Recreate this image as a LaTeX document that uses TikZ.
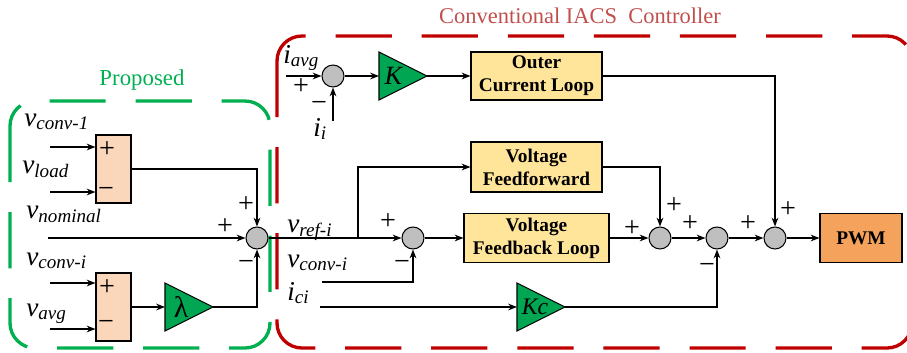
\documentclass[tikz,border=0pt]{standalone}
\usepackage{fontspec}
\setmainfont{Liberation Serif}
\usepackage{tikz}
\usetikzlibrary{arrows.meta,calc}
\definecolor{boxyellow}{RGB}{255,229,153}
\definecolor{peach}{RGB}{250,214,186}
\definecolor{gaingreen}{RGB}{0,166,81}
\definecolor{pwmorange}{RGB}{244,162,92}
\definecolor{sumgray}{RGB}{191,191,191}
\definecolor{dashred}{RGB}{192,0,0}
\definecolor{titlered}{RGB}{192,80,77}
\definecolor{dashgreen}{RGB}{0,176,80}
\newcommand{\sigl}[2]{\textit{#1}\textsubscript{\textit{#2}}}

\begin{document}
\begin{tikzpicture}[x=0.02cm, y=-0.02cm, >={Stealth[length=5pt,width=3.8pt]},
    sig/.style={line width=1.3pt},
    sumnode/.style={circle, draw, line width=0.6pt, fill=sumgray, minimum size=0.44cm, inner sep=0pt},
    loopbox/.style={draw, line width=0.6pt, fill=boxyellow, font=\fontsize{11}{13}\selectfont\bfseries, align=center, inner sep=0pt},
    subbox/.style={draw, line width=0.6pt, fill=peach, minimum width=0.7cm, minimum height=1.36cm, inner sep=0pt},
    gainshape/.style={draw, line width=0.6pt, fill=gaingreen},
    lbl/.style={anchor=base west, inner sep=0pt, font=\fontsize{15.5}{18}\selectfont},
    sgn/.style={inner sep=0pt, font=\fontsize{16}{18}\selectfont},
    groupbox/.style={line width=1.9pt, dash pattern=on 32pt off 17pt, rounded corners=0.5cm}]
    \useasboundingbox (0,0) rectangle (907,352);

    % Dashed groups
    \draw[groupbox, dashgreen] (10,101) rectangle (270,348);
    \draw[groupbox, dashred] (277,36) rectangle (912,348);
    \node[anchor=base, text=dashgreen, font=\fontsize{13}{15}\selectfont] (prop) at (142,85) {Proposed};
    \node[anchor=base, text=titlered, font=\fontsize{12.8}{15}\selectfont] (title) at (580,23) {Conventional IACS\ \ Controller};

    % Summing junctions
    \node[sumnode] (S0) at (257,238) {};
    \node[sumnode] (S1) at (333,76) {};
    \node[sumnode] (S2) at (413,238) {};
    \node[sumnode] (S3) at (660,238) {};
    \node[sumnode] (S4) at (717,238) {};
    \node[sumnode] (S5) at (775,238) {};

    % Blocks
    \node[subbox] (sub1) at (113.5,169) {};
    \node[subbox] (sub2) at (113.5,307) {};
    \node[loopbox, minimum width=2.62cm, minimum height=0.96cm] (OCL) at (536.5,76) {Outer\\Current Loop};
    \node[loopbox, minimum width=2.62cm, minimum height=1cm] (VFF) at (536.5,167) {Voltage\\Feedforward};
    \node[loopbox, minimum width=2.9cm, minimum height=0.98cm] (VFB) at (536.5,238) {Voltage\\Feedback Loop};
    \node[loopbox, fill=pwmorange, minimum width=1.64cm, minimum height=0.98cm] (PWM) at (861,238) {PWM};

    % Gains
    \draw[gainshape] (379,52) -- (427,76) -- (379,100) -- cycle;
    \draw[gainshape] (165,283) -- (213,307) -- (165,331) -- cycle;
    \draw[gainshape] (517,283) -- (565,307) -- (517,331) -- cycle;
    \node[font=\fontsize{15}{17}\selectfont] (K) at (394,76) {\textit{K}};
    \node[font=\fontsize{17}{19}\selectfont] (lam) at (181,307) {λ};
    \node[font=\fontsize{13.5}{15}\selectfont] (Kc) at (535,307) {\textit{Kc}};
    \coordinate (Kin) at (379,76);
    \coordinate (Kout) at (427,76);
    \coordinate (Lin) at (165,307);
    \coordinate (Lout) at (213,307);
    \coordinate (Kcin) at (517,307);
    \coordinate (Kcout) at (565,307);

    % Inputs
    \coordinate (vc1) at (50,147);
    \coordinate (vld) at (50,192);
    \coordinate (vnom) at (48,238);
    \coordinate (vci) at (50,283);
    \coordinate (vavg) at (50,329);
    \coordinate (iavg) at (286,76);
    \coordinate (ii) at (333,121);
    \coordinate (vconv) at (322,282);
    \coordinate (ici) at (320,307);
    \coordinate (br) at (358,238);

    % Proposed part
    \draw[sig,->] (vc1) -- (vc1 -| sub1.west);
    \draw[sig,->] (vld) -- (vld -| sub1.west);
    \draw[sig,->] (vci) -- (vci -| sub2.west);
    \draw[sig,->] (vavg) -- (vavg -| sub2.west);
    \draw[sig,->] (sub1.east) -| (S0.north);
    \draw[sig,->] (vnom) -- (S0.west);
    \draw[sig,->] (sub2.east) -- (Lin);
    \draw[sig,->] (Lout) -| (S0.south);

    % Conventional part
    \draw[sig,->] (iavg) -- (S1.west);
    \draw[sig,->] (ii) -- (S1.south);
    \draw[sig,->] (S1.east) -- (Kin);
    \draw[sig,->] (Kout) -- (OCL.west);
    \draw[sig,->] (S0.east) -- (S2.west);
    \draw[sig,->] (br) |- (VFF.west);
    \draw[sig,->] (vconv) -| (S2.south);
    \draw[sig,->] (S2.east) -- (VFB.west);
    \draw[sig,->] (VFB.east) -- (S3.west);
    \draw[sig,->] (VFF.east) -| (S3.north);
    \draw[sig,->] (S3.east) -- (S4.west);
    \draw[sig,->] (S4.east) -- (S5.west);
    \draw[sig,->] (S5.east) -- (PWM.west);
    \draw[sig,->] (OCL.east) -| (S5.north);
    \draw[sig,->] (ici) -- (Kcin);
    \draw[sig,->] (Kcout) -| (S4.south);

    % Signal names
    \node[lbl] (Lvc1) at (24,126) {\sigl{v}{conv-1}};
    \node[lbl] (Lvld) at (22,173) {\sigl{v}{load}};
    \node[lbl] (Lvnom) at (26,218) {\sigl{v}{nominal}};
    \node[lbl] (Lvci) at (26,265) {\sigl{v}{conv-i}};
    \node[lbl] (Lvavg) at (26,316) {\sigl{v}{avg}};
    \node[lbl] (Liavg) at (283,63) {\sigl{i}{avg}};
    \node[lbl] (Lii) at (313,136) {\sigl{i}{i}};
    \node[lbl] (Lvref) at (287,232) {\sigl{v}{ref-i}};
    \node[lbl] (Lvconv) at (287,267) {\sigl{v}{conv-i}};
    \node[lbl] (Lici) at (287,300) {\sigl{i}{ci}};

    % Signs
    \node[sgn] (p1) at (107,150) {+};
    \node[sgn] (m1) at (106,192) {−};
    \node[sgn] (p2) at (107,288) {+};
    \node[sgn] (m2) at (106,325) {−};
    \node[sgn] (p3) at (246,205) {+};
    \node[sgn] (p4) at (225,227) {+};
    \node[sgn] (m3) at (246,265) {−};
    \node[sgn] (p5) at (301,87) {+};
    \node[sgn] (m4) at (319,106) {−};
    \node[sgn] (p6) at (388,222) {+};
    \node[sgn] (m5) at (402,265) {−};
    \node[sgn] (p7) at (632,229) {+};
    \node[sgn] (p8) at (674,206) {+};
    \node[sgn] (p9) at (690,224) {+};
    \node[sgn] (m6) at (707,268) {−};
    \node[sgn] (p10) at (748,224) {+};
    \node[sgn] (p11) at (788,210) {+};
\end{tikzpicture}
\end{document}
